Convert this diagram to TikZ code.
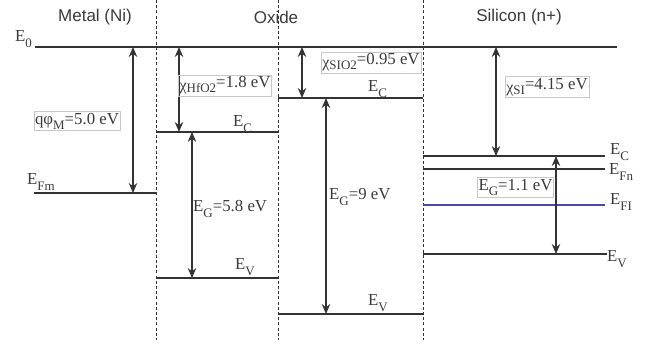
\documentclass[tikz,border=0pt]{standalone}
\usepackage{fontspec}
\setmainfont{Liberation Serif}
\newfontfamily\hdrfont{Liberation Sans}
\usetikzlibrary{arrows.meta}
\definecolor{linec}{HTML}{333333}
\definecolor{txtc}{HTML}{3A3A3A}
\definecolor{boxc}{HTML}{C8C8C8}
\definecolor{fiblue}{HTML}{4848A8}
\newcommand\lsub[1]{\raisebox{-0.3em}{\fontsize{13}{14}\selectfont #1}}
\newcommand\bigchi{{\fontsize{16}{16}\selectfont\raisebox{0.12em}{χ}}}
\begin{document}
\begin{tikzpicture}[x=1pt,y=-1pt,
  lvl/.style={draw=linec, line width=1.1pt},
  sep/.style={draw=linec, line width=0.9pt, dash pattern=on 3pt off 2.2pt},
  dbl/.style={draw=linec, line width=1.1pt, {Stealth[length=10pt,width=8.5pt]}-{Stealth[length=10pt,width=8.5pt]}},
  hdr/.style={font=\hdrfont\fontsize{17}{19}\selectfont, text=txtc, inner sep=0pt},
  lab/.style={font=\fontsize{16.8}{18}\selectfont, text=txtc, inner sep=0pt, anchor=base west},
  blab/.style={font=\fontsize{16.8}{18}\selectfont, text=txtc, draw=boxc, line width=0.6pt, inner xsep=1.2pt, inner ysep=1.6pt}]
\useasboundingbox (0,0) rectangle (646,347);
% region separators
\coordinate (s1t) at (156,0); \coordinate (s1b) at (156,340);
\coordinate (s2t) at (278,0); \coordinate (s2b) at (278,340);
\coordinate (s3t) at (423,0); \coordinate (s3b) at (423,340);
\draw[sep] (s1t) -- (s1b);
\draw[sep] (s2t) -- (s2b);
\draw[sep] (s3t) -- (s3b);
% headers
\node[hdr] (hmetal) at (95,17) {Metal (Ni)};
\node[hdr] (hoxide) at (276,17) {Oxide};
\node[hdr] (hsi) at (519,17) {Silicon (n+)};
% vacuum level
\coordinate (e0l) at (35,47); \coordinate (e0r) at (617,47);
\draw[lvl] (e0l) -- (e0r);
\node[lab] (le0) at (15,42) {E\lsub{0}};
% metal
\coordinate (efml) at (34,193); \coordinate (efmr) at (156,193);
\draw[lvl] (efml) -- (efmr);
\node[lab] (lefm) at (27,185) {E\lsub{Fm}};
\coordinate (qa) at (133,47); \coordinate (qb) at (133,193);
\draw[dbl] (qa) -- (qb);
\node[blab] (lq) at (77,121) {qφ\lsub{M}=5.0 eV};
% HfO2
\coordinate (ec1l) at (156,132); \coordinate (ec1r) at (278,132);
\coordinate (ev1l) at (156,278); \coordinate (ev1r) at (278,278);
\draw[lvl] (ec1l) -- (ec1r);
\draw[lvl] (ev1l) -- (ev1r);
\node[lab] (lec1) at (233,127) {E\lsub{C}};
\node[lab] (lev1) at (235,270) {E\lsub{V}};
\coordinate (xa) at (179,47); \coordinate (xb) at (179,132);
\draw[dbl] (xa) -- (xb);
\node[blab] (lx1) at (225,85.5) {\lsub{\bigchi HfO2}=1.8 eV};
\coordinate (ga) at (192,132); \coordinate (gb) at (192,278);
\draw[dbl] (ga) -- (gb);
\node[lab] (lg1) at (193,212) {E\lsub{G}=5.8 eV};
% SiO2
\coordinate (ec2l) at (278,98); \coordinate (ec2r) at (423,98);
\coordinate (ev2l) at (278,314); \coordinate (ev2r) at (423,314);
\draw[lvl] (ec2l) -- (ec2r);
\draw[lvl] (ev2l) -- (ev2r);
\node[lab] (lec2) at (368,92) {E\lsub{C}};
\node[lab] (lev2) at (368,306) {E\lsub{V}};
\coordinate (ya) at (302,47); \coordinate (yb) at (302,98);
\draw[dbl] (ya) -- (yb);
\node[blab] (lx2) at (371,62.5) {\lsub{\bigchi SIO2}=0.95 eV};
\coordinate (ha) at (326,98); \coordinate (hb) at (326,314);
\draw[dbl] (ha) -- (hb);
\node[lab] (lg2) at (329,200) {E\lsub{G}=9 eV};
% Silicon
\coordinate (ec3l) at (423,156); \coordinate (ec3r) at (605,156);
\coordinate (efnl) at (423,169); \coordinate (efnr) at (605,169);
\coordinate (efil) at (423,205); \coordinate (efir) at (605,205);
\coordinate (ev3l) at (423,254); \coordinate (ev3r) at (607,254);
\draw[lvl] (ec3l) -- (ec3r);
\draw[lvl] (efnl) -- (efnr);
\draw[draw=fiblue, line width=1.1pt] (efil) -- (efir);
\draw[lvl] (ev3l) -- (ev3r);
\node[lab] (lec3) at (610,155) {E\lsub{C}};
\node[lab] (lefn) at (609,175) {E\lsub{Fn}};
\node[lab] (lefi) at (610,205) {E\lsub{FI}};
\node[lab] (lev3) at (607,262) {E\lsub{V}};
\coordinate (za) at (496,47); \coordinate (zb) at (496,156);
\draw[dbl] (za) -- (zb);
\node[blab] (lx3) at (547,87) {\lsub{\bigchi SI}=4.15 eV};
\coordinate (ka) at (556,156); \coordinate (kb) at (556,254);
\draw[dbl] (ka) -- (kb);
\node[blab] (lg3) at (515.5,187.5) {E\lsub{G}=1.1 eV};
\end{tikzpicture}
\end{document}
